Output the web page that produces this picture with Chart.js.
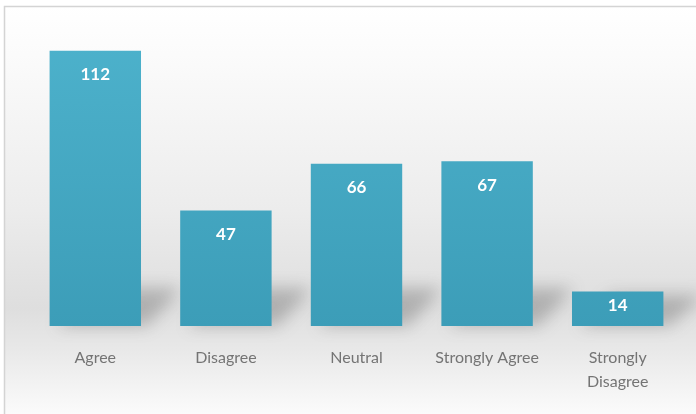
<!DOCTYPE html>
<html>
<head>
<meta charset="utf-8">
<script src="https://cdn.jsdelivr.net/npm/chart.js@4"></script>
<style>
    html, body { margin: 0; padding: 0; background: #ffffff; }
    #wrap { width: 696px; height: 414px; position: relative; }
</style>
</head>
<body>
<div id="wrap"><canvas id="report"></canvas></div>
<script>
const categories = ['Agree', 'Disagree', 'Neutral', ['Strongly Agree'], ['Strongly', 'Disagree']];
const responses = [112, 47, 66, 67, 14];
const yMax = 120;

// soft grey backdrop with a thin frame on top and left
const backdrop = {
    id: 'backdrop',
    beforeDraw(chart) {
        const ctx = chart.ctx;
        const w = chart.width, h = chart.height;
        ctx.save();
        const g = ctx.createLinearGradient(0, 6, 0, h);
        g.addColorStop(0, '#ffffff');
        g.addColorStop(0.12, '#fbfbfb');
        g.addColorStop(0.5, '#ececec');
        g.addColorStop(0.74, '#dedede');
        g.addColorStop(0.84, '#e8e8e8');
        g.addColorStop(1, '#fbfbfb');
        ctx.fillStyle = g;
        ctx.fillRect(5, 7, w - 5, h - 7);
        ctx.strokeStyle = '#d4d4d4';
        ctx.lineWidth = 1.5;
        ctx.beginPath();
        ctx.moveTo(4.5, h);
        ctx.lineTo(4.5, 6.5);
        ctx.lineTo(w, 6.5);
        ctx.stroke();
        ctx.restore();
    }
};

// slanted floor shadows cast behind each bar
const barShadows = {
    id: 'barShadows',
    beforeDatasetsDraw(chart) {
        const ctx = chart.ctx;
        ctx.save();
        ctx.filter = 'blur(8px)';
        ctx.fillStyle = 'rgba(70,70,70,0.3)';
        chart.getDatasetMeta(0).data.forEach(bar => {
            const left = bar.x - bar.width / 2;
            const right = bar.x + bar.width / 2;
            const base = bar.base;
            const rise = Math.min(38, (base - bar.y) * 0.9);
            ctx.beginPath();
            ctx.moveTo(left + 8, base);
            ctx.lineTo(right + 6, base);
            ctx.lineTo(right + 40, base - rise);
            ctx.lineTo(left + 40, base - rise);
            ctx.closePath();
            ctx.fill();
        });
        ctx.restore();
    }
};

// white value labels near the top of each bar
const valueLabels = {
    id: 'valueLabels',
    afterDatasetsDraw(chart) {
        const ctx = chart.ctx;
        ctx.save();
        ctx.font = 'bold 17px Lato, "Open Sans", sans-serif';
        ctx.fillStyle = '#ffffff';
        ctx.textAlign = 'center';
        ctx.textBaseline = 'middle';
        chart.getDatasetMeta(0).data.forEach((bar, i) => {
            const y = Math.min(bar.y + 24, bar.y + (bar.base - bar.y) * 0.4);
            ctx.fillText(String(responses[i]), bar.x, y);
        });
        ctx.restore();
    }
};

const ctx = document.getElementById('report').getContext('2d');
let myChart = new Chart(ctx, {
    type: 'bar',
    data: {
        labels: categories,
        datasets: [{
            data: responses,
            backgroundColor: function(context) {
                const area = context.chart.chartArea;
                if (!area) return '#45a8c3';
                const g = context.chart.ctx.createLinearGradient(0, area.top, 0, area.bottom);
                g.addColorStop(0, '#4db2cc');
                g.addColorStop(1, '#3c9db8');
                return g;
            },
            borderWidth: 0,
            categoryPercentage: 0.7,
            barPercentage: 1
        }]
    },
    options: {
        responsive: true,
        maintainAspectRatio: false,
        animation: false,
        layout: {
            padding: { top: 31, left: 30, right: 13, bottom: 0 }
        },
        plugins: {
            legend: { display: false },
            tooltip: { enabled: false }
        },
        scales: {
            x: {
                grid: { display: false, drawTicks: false },
                border: { display: false },
                ticks: {
                    color: '#747474',
                    padding: 20,
                    maxRotation: 0,
                    autoSkip: false,
                    font: { family: 'Lato, "Open Sans", sans-serif', size: 16, lineHeight: 1.5 }
                }
            },
            y: {
                display: false,
                beginAtZero: true,
                max: yMax
            }
        }
    },
    plugins: [backdrop, barShadows, valueLabels]
});
</script>
</body>
</html>
